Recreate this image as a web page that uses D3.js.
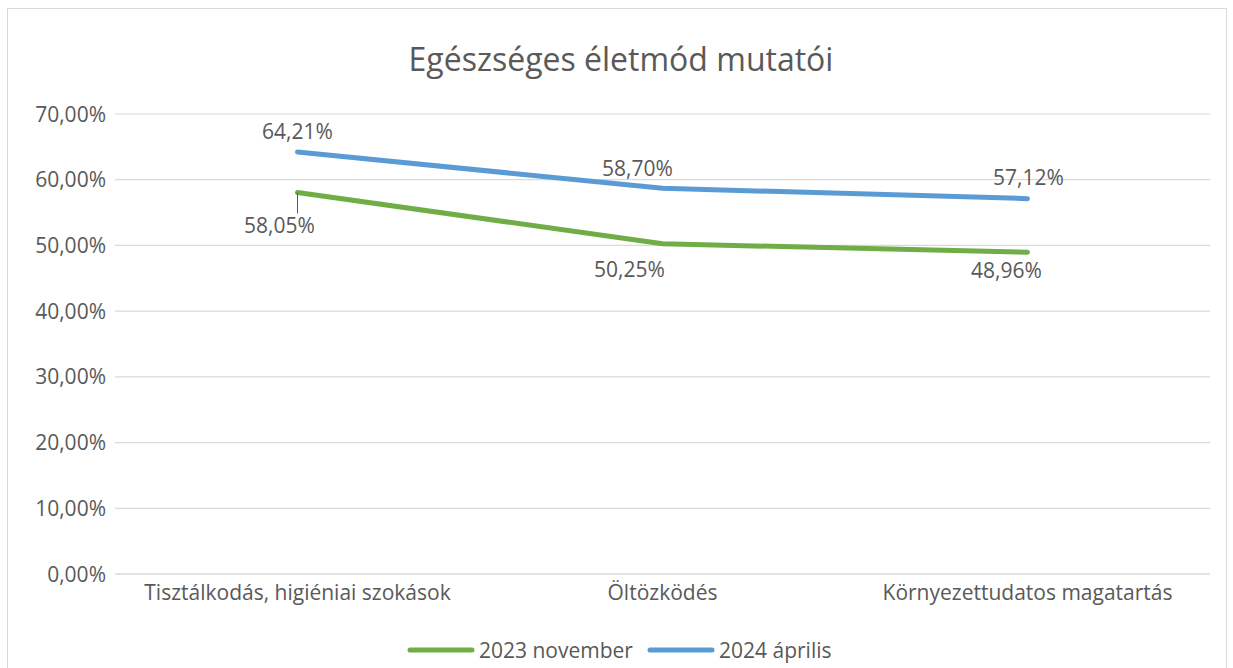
<!DOCTYPE html>
<head>
    <meta charset="utf-8">
    <script src="https://d3js.org/d3.v7.min.js"></script>
    <style>
        body { margin: 0; background: #fff; }
        text { font-family: "Open Sans", Lato, sans-serif; fill: #595959; }
    </style>
</head>
<body>
    <svg></svg>
</body>

<script>
    // Data
    var categories = ["Tisztálkodás, higiéniai szokások", "Öltözködés", "Környezettudatos magatartás"];
    var seriesNames = ["2023 november", "2024 április"];
    var nov2023 = [58.05, 50.25, 48.96];
    var apr2024 = [64.21, 58.70, 57.12];
    var yTicks = [0, 10, 20, 30, 40, 50, 60, 70];

    var colors = ["#70AD47", "#5B9BD5"];
    var width = 1233, height = 668;
    var fs = '21px';

    var svg = d3.select('svg')
        .attr('width', width)
        .attr('height', height);

    // chart border
    svg.append('rect')
        .attr('x', 7.5).attr('y', 8.5)
        .attr('width', 1219).attr('height', 670)
        .attr('fill', 'none')
        .attr('stroke', '#D9D9D9');

    // Title
    svg.append('text')
        .attr('x', 621).attr('y', 71)
        .attr('text-anchor', 'middle')
        .style('font-size', '32px')
        .text('Egészséges életmód mutatói');

    var x = d3.scalePoint().domain(categories).range([115, 1210]).padding(0.5);
    var y = d3.scaleLinear().domain([0, 70]).range([574, 114]);

    var fmt = function (v) { return d3.format('.2f')(v).replace('.', ',') + '%'; };

    // Gridlines
    svg.append('g').selectAll('line')
        .data(yTicks)
        .enter().append('line')
        .attr('x1', 115).attr('x2', 1210)
        .attr('y1', function (d) { return y(d); })
        .attr('y2', function (d) { return y(d); })
        .attr('stroke', '#D9D9D9')
        .attr('stroke-width', function (d) { return d === 0 ? 1.5 : 1.2; });

    // Y axis labels
    svg.append('g').selectAll('text')
        .data(yTicks)
        .enter().append('text')
        .attr('x', 106)
        .attr('y', function (d) { return y(d) + 7.5; })
        .attr('text-anchor', 'end')
        .style('font-size', fs)
        .text(function (d) { return fmt(d); });

    // X axis labels
    svg.append('g').selectAll('text')
        .data(categories)
        .enter().append('text')
        .attr('x', function (d) { return x(d); })
        .attr('y', 600)
        .attr('text-anchor', 'middle')
        .style('font-size', fs)
        .text(function (d) { return d; });

    var series = [nov2023, apr2024];
    var line = d3.line()
        .x(function (d, i) { return x(categories[i]); })
        .y(function (d) { return y(d); });

    svg.append('g').selectAll('path')
        .data(series)
        .enter().append('path')
        .attr('d', line)
        .attr('fill', 'none')
        .attr('stroke', function (d, i) { return colors[i]; })
        .attr('stroke-width', 5)
        .attr('stroke-linecap', 'round')
        .attr('stroke-linejoin', 'round');

    // data label offsets (dx, dy from the point to text baseline centre)
    var labelOffsets = [
        [[-18, 40], [-33, 33], [-21, 26]],
        [[0, -13], [-25, -12], [1, -14]]
    ];

    // leader line for first green label
    svg.append('line')
        .attr('x1', x(categories[0])).attr('x2', x(categories[0]))
        .attr('y1', y(nov2023[0])).attr('y2', y(nov2023[0]) + 21)
        .attr('stroke', '#595959').attr('stroke-width', 1);

    series.forEach(function (s, si) {
        svg.append('g').selectAll('text')
            .data(s)
            .enter().append('text')
            .attr('x', function (d, i) { return x(categories[i]) + labelOffsets[si][i][0]; })
            .attr('y', function (d, i) { return y(d) + labelOffsets[si][i][1]; })
            .attr('text-anchor', 'middle')
            .style('font-size', fs)
            .text(function (d) { return fmt(d); });
    });

    // Legend
    var legend = svg.append('g');
    var legendX = [410, 650];
    seriesNames.forEach(function (name, i) {
        legend.append('line')
            .attr('x1', legendX[i]).attr('x2', legendX[i] + 62)
            .attr('y1', 650).attr('y2', 650)
            .attr('stroke', colors[i])
            .attr('stroke-width', 5)
            .attr('stroke-linecap', 'round');
        legend.append('text')
            .attr('x', legendX[i] + 69).attr('y', 658)
            .style('font-size', fs)
            .text(name);
    });
</script>
